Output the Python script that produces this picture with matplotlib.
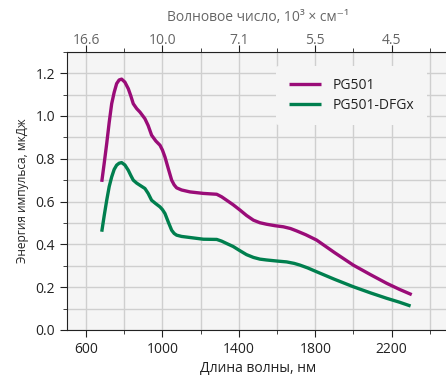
import numpy as np
import matplotlib as mpl
mpl.use("Agg")
from matplotlib import pyplot as plt
from matplotlib.ticker import MultipleLocator

# wavelength, nm / pulse energy, uJ
wl_pg501 = [682, 695, 708, 721, 734, 747, 760, 773, 786, 803, 821, 834, 847, 865, 882,
            908, 925, 943, 965, 987, 1000, 1013, 1030, 1048, 1061, 1074, 1100, 1144, 1214,
            1284, 1310, 1336, 1370, 1406, 1440, 1476, 1510, 1545, 1590, 1633, 1670, 1702,
            1750, 1807, 1900, 1999, 2090, 2174, 2240, 2305]
e_pg501 = [0.692, 0.78, 0.871, 0.97, 1.057, 1.11, 1.151, 1.168, 1.172, 1.158, 1.127,
           1.094, 1.057, 1.034, 1.018, 0.987, 0.955, 0.91, 0.883, 0.863, 0.84, 0.808,
           0.755, 0.70, 0.678, 0.664, 0.654, 0.645, 0.638, 0.634, 0.622, 0.606, 0.585,
           0.56, 0.535, 0.513, 0.501, 0.494, 0.487, 0.482, 0.474, 0.463, 0.445, 0.42,
           0.362, 0.303, 0.258, 0.218, 0.19, 0.165]

wl_dfgx = [682, 695, 708, 721, 734, 747, 760, 773, 786, 803, 821, 834, 847, 865, 882,
           908, 925, 943, 965, 987, 1000, 1013, 1030, 1048, 1061, 1074, 1100, 1144, 1214,
           1284, 1310, 1336, 1370, 1406, 1440, 1476, 1510, 1545, 1600, 1650, 1690, 1720,
           1760, 1807, 1900, 1999, 2090, 2174, 2240, 2299]
e_dfgx = [0.459, 0.535, 0.606, 0.67, 0.715, 0.75, 0.77, 0.779, 0.782, 0.771, 0.746,
          0.722, 0.70, 0.686, 0.676, 0.661, 0.638, 0.606, 0.59, 0.575, 0.562, 0.544,
          0.505, 0.466, 0.451, 0.443, 0.437, 0.432, 0.424, 0.423, 0.415, 0.404, 0.39,
          0.37, 0.352, 0.339, 0.331, 0.327, 0.322, 0.318, 0.311, 0.303, 0.29, 0.272,
          0.237, 0.202, 0.173, 0.148, 0.13, 0.112]

top_ticks = [600, 1000, 1400, 1800, 2200]
top_labels = ["16.6", "10.0", "7.1", "5.5", "4.5"]

purple = "#9a0c78"
green = "#007f4e"
dark = "#222222"
grey = "#666666"

plt.rcParams["font.family"] = ["Open Sans", "DejaVu Sans"]
plt.rcParams["font.size"] = 10

fig = plt.figure(figsize=(4.46, 3.81), dpi=100)
ax = fig.add_axes([0.1502, 0.1339, 0.8565, 0.7304])
ax.set_facecolor("#f5f5f5")

ax.plot(wl_pg501, e_pg501, color=purple, lw=2.4, label="PG501", solid_capstyle="butt")
ax.plot(wl_dfgx, e_dfgx, color=green, lw=2.4, label="PG501-DFGx", solid_capstyle="butt")

ax.set_xlim(500, 2500)
ax.set_ylim(0, 1.3)
ax.xaxis.set_minor_locator(MultipleLocator(200))
ax.set_xticks([600, 1000, 1400, 1800, 2200])
ax.yaxis.set_major_locator(MultipleLocator(0.2))
ax.yaxis.set_minor_locator(MultipleLocator(0.1))
ax.yaxis.set_major_formatter(mpl.ticker.FormatStrFormatter("%.1f"))

ax.grid(True, which="both", color="#cfcfcf", lw=1.0)
ax.set_axisbelow(True)
for s in ["top", "right"]:
    ax.spines[s].set_visible(False)
for s in ["left", "bottom"]:
    ax.spines[s].set_color(dark)
ax.tick_params(which="major", length=5, color=dark, labelcolor=dark)
ax.tick_params(which="minor", length=3, color=dark)

ax.set_xlabel("Длина волны, нм", color=dark, labelpad=3)
ax.set_ylabel("Энергия импульса, мкДж", color=dark, fontsize=8.6, labelpad=5)

top = ax.twiny()
top.set_xlim(ax.get_xlim())
top.set_xticks(top_ticks)
top.set_xticklabels(top_labels)
top.xaxis.set_minor_locator(MultipleLocator(200))
top.tick_params(which="major", length=5, pad=-2.5, color=dark, labelcolor=grey)
top.tick_params(which="minor", length=3, color=dark)
top.spines["top"].set_color(dark)
for s in ["left", "right", "bottom"]:
    top.spines[s].set_visible(False)
top.set_xlabel("Волновое число, 10³ × см⁻¹", color=grey, labelpad=9)

leg = ax.legend(loc="upper left", bbox_to_anchor=(0.53, 0.975), frameon=True,
                facecolor="#f5f5f5", edgecolor="none", framealpha=1.0,
                handlelength=2.3, handletextpad=0.85, borderpad=0.9,
                labelspacing=0.35)
for t in leg.get_texts():
    t.set_color(dark)

fig.savefig("out.png", dpi=100)
